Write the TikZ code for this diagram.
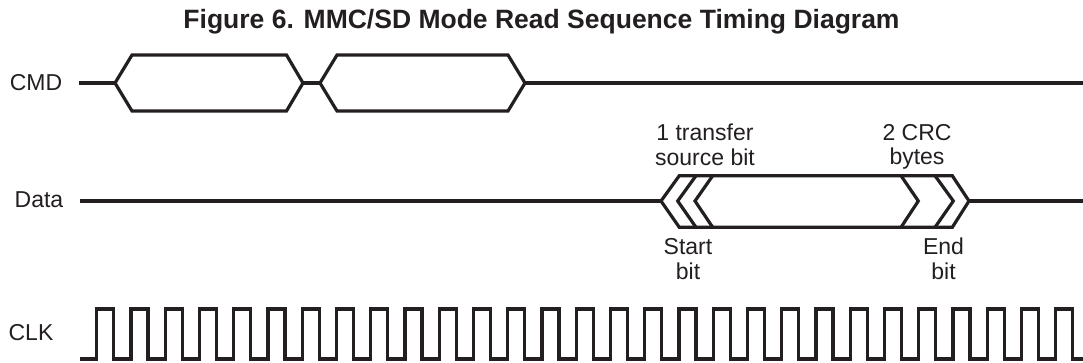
\documentclass[tikz,border=0pt]{standalone}
\usepackage{fontspec}
\setmainfont{Liberation Sans}
\definecolor{ink}{RGB}{35,31,32}
\begin{document}
\begin{tikzpicture}[x=1pt,y=-1pt,
  wave/.style={line width=3.2pt, draw=ink, line join=miter},
  lbl/.style={font=\fontsize{23}{24.5}\selectfont, text=ink, inner sep=0pt, align=center},
  ttl/.style={font=\bfseries\fontsize{26.5}{28}\selectfont, text=ink, inner sep=0pt}]
\useasboundingbox (0,0) rectangle (1083,362);
% title
\node[ttl] (title) at (541.5,21.5) {Figure 6. MMC/SD Mode Read Sequence Timing Diagram};
% signal names
\node[lbl] (cmd) at (36,83) {CMD};
\node[lbl] (data) at (39,200) {Data};
\node[lbl] (clk) at (31,333) {CLK};
% CMD waveform
\draw[wave] (79,83) -- (115,83);
\draw[wave] (115,83) -- (132,55) -- (286.5,55) -- (303,83) -- (286.5,111) -- (132,111) -- cycle;
\draw[wave] (303,83) -- (320,83);
\draw[wave] (320,83) -- (337,55) -- (508,55) -- (525,83) -- (508,111) -- (337,111) -- cycle;
\draw[wave] (525,83) -- (1083,83);
% Data waveform
\draw[wave] (80,201) -- (661,201);
\draw[wave] (661,201) -- (679.3,175.7) -- (952.3,175.7) -- (969,201) -- (952.3,227.3) -- (679.3,227.3) -- cycle;
\draw[wave] (696,175.7) -- (677.7,201) -- (696,227.3);
\draw[wave] (712.7,175.7) -- (695,201) -- (712.7,227.3);
\draw[wave] (901,175.7) -- (918.3,201) -- (901,227.3);
\draw[wave] (935,175.7) -- (953.3,201) -- (935,227.3);
\draw[wave] (969,201) -- (1083,201);
% Data annotations
\node[lbl] (src) at (705,145) {1 transfer\\source bit};
\node[lbl] (crc) at (917,147) {2 CRC\\bytes};
\node[lbl] (start) at (688,259) {Start\\bit};
\node[lbl] (end) at (943.5,259) {End\\bit};
% CLK waveform
\draw[wave] (80,359) \foreach \k in {0,...,28} { -- ({96.7+34.25*\k},359) -- ++(0,-50) -- ++(17,0) -- ++(0,50) } -- (1083,359);
\end{tikzpicture}
\end{document}
